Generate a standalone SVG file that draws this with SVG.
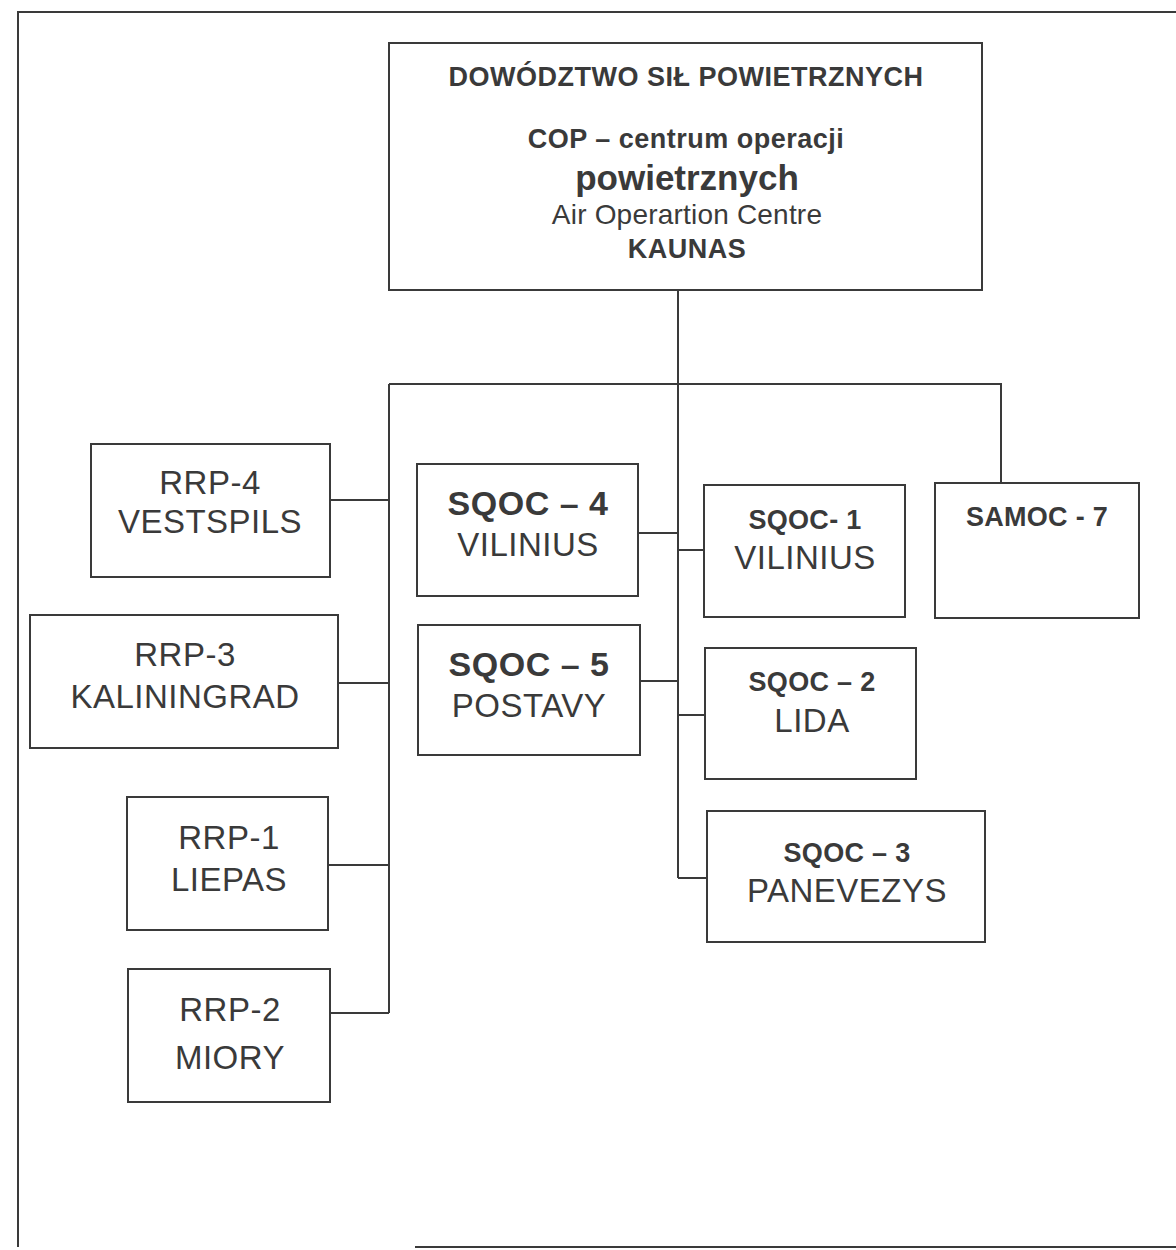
<svg xmlns="http://www.w3.org/2000/svg" width="1176" height="1250" viewBox="0 0 1176 1250">
<style>
.box{fill:#fff;stroke:#3a3a3a;stroke-width:2}
.ln{fill:none;stroke:#3a3a3a;stroke-width:2}
text{font-family:"Liberation Sans",Arial,sans-serif;fill:#3a3a3a;text-anchor:middle}
.b{font-weight:bold}
.r{font-size:33px;letter-spacing:0.5px}
.bl{font-size:34px;font-weight:bold;letter-spacing:0.5px}
.bs{font-size:27px;font-weight:bold;letter-spacing:0.3px}
.top{font-size:27px;letter-spacing:0.5px}
</style>
<rect width="1176" height="1250" fill="#fff"/>
<g id="frame">
<path class="ln" d="M18,1247 V12 H1176"/>
<path class="ln" d="M415,1247 H1176"/>
</g>
<g id="connectors">
<path class="ln" d="M678,290 V878"/>
<path class="ln" d="M389,384 H1001 V483"/>
<path class="ln" d="M389,384 V1013"/>
<path class="ln" d="M330,500 H389"/>
<path class="ln" d="M338,683 H389"/>
<path class="ln" d="M328,865 H389"/>
<path class="ln" d="M330,1013 H389"/>
<path class="ln" d="M638,533 H678"/>
<path class="ln" d="M640,681 H678"/>
<path class="ln" d="M678,550 H704"/>
<path class="ln" d="M678,715 H705"/>
<path class="ln" d="M678,878 H707"/>
</g>
<g id="dsp">
<rect class="box" x="389" y="43" width="593" height="247"/>
<text class="top b" x="686" y="86">DOWÓDZTWO SIŁ POWIETRZNYCH</text>
<text class="top b" x="686" y="148">COP – centrum operacji</text>
<text class="b" x="687" y="190" style="font-size:35px">powietrznych</text>
<text class="top" x="687" y="224" style="font-size:28px;letter-spacing:0.2px">Air Operartion Centre</text>
<text class="top b" x="687" y="258">KAUNAS</text>
</g>
<g id="rrp4">
<rect class="box" x="91" y="444" width="239" height="133"/>
<text class="r" x="210" y="494">RRP-4</text>
<text class="r" x="210" y="533">VESTSPILS</text>
</g>
<g id="rrp3">
<rect class="box" x="30" y="615" width="308" height="133"/>
<text class="r" x="185" y="666">RRP-3</text>
<text class="r" x="185" y="708">KALININGRAD</text>
</g>
<g id="rrp1">
<rect class="box" x="127" y="797" width="201" height="133"/>
<text class="r" x="229" y="849">RRP-1</text>
<text class="r" x="229" y="891">LIEPAS</text>
</g>
<g id="rrp2">
<rect class="box" x="128" y="969" width="202" height="133"/>
<text class="r" x="230" y="1021">RRP-2</text>
<text class="r" x="230" y="1069">MIORY</text>
</g>
<g id="sqoc4">
<rect class="box" x="417" y="464" width="221" height="132"/>
<text class="bl" x="528" y="515">SQOC – 4</text>
<text class="r" x="528" y="556">VILINIUS</text>
</g>
<g id="sqoc5">
<rect class="box" x="418" y="625" width="222" height="130"/>
<text class="bl" x="529" y="676">SQOC – 5</text>
<text class="r" x="529" y="717">POSTAVY</text>
</g>
<g id="sqoc1">
<rect class="box" x="704" y="485" width="201" height="132"/>
<text class="bs" x="805" y="529">SQOC- 1</text>
<text class="r" x="805" y="569">VILINIUS</text>
</g>
<g id="sqoc2">
<rect class="box" x="705" y="648" width="211" height="131"/>
<text class="bs" x="812" y="691">SQOC – 2</text>
<text class="r" x="812" y="732">LIDA</text>
</g>
<g id="sqoc3">
<rect class="box" x="707" y="811" width="278" height="131"/>
<text class="bs" x="847" y="862">SQOC – 3</text>
<text class="r" x="847" y="902">PANEVEZYS</text>
</g>
<g id="samoc7">
<rect class="box" x="935" y="483" width="204" height="135"/>
<text class="bs" x="1037" y="526">SAMOC - 7</text>
</g>
</svg>
